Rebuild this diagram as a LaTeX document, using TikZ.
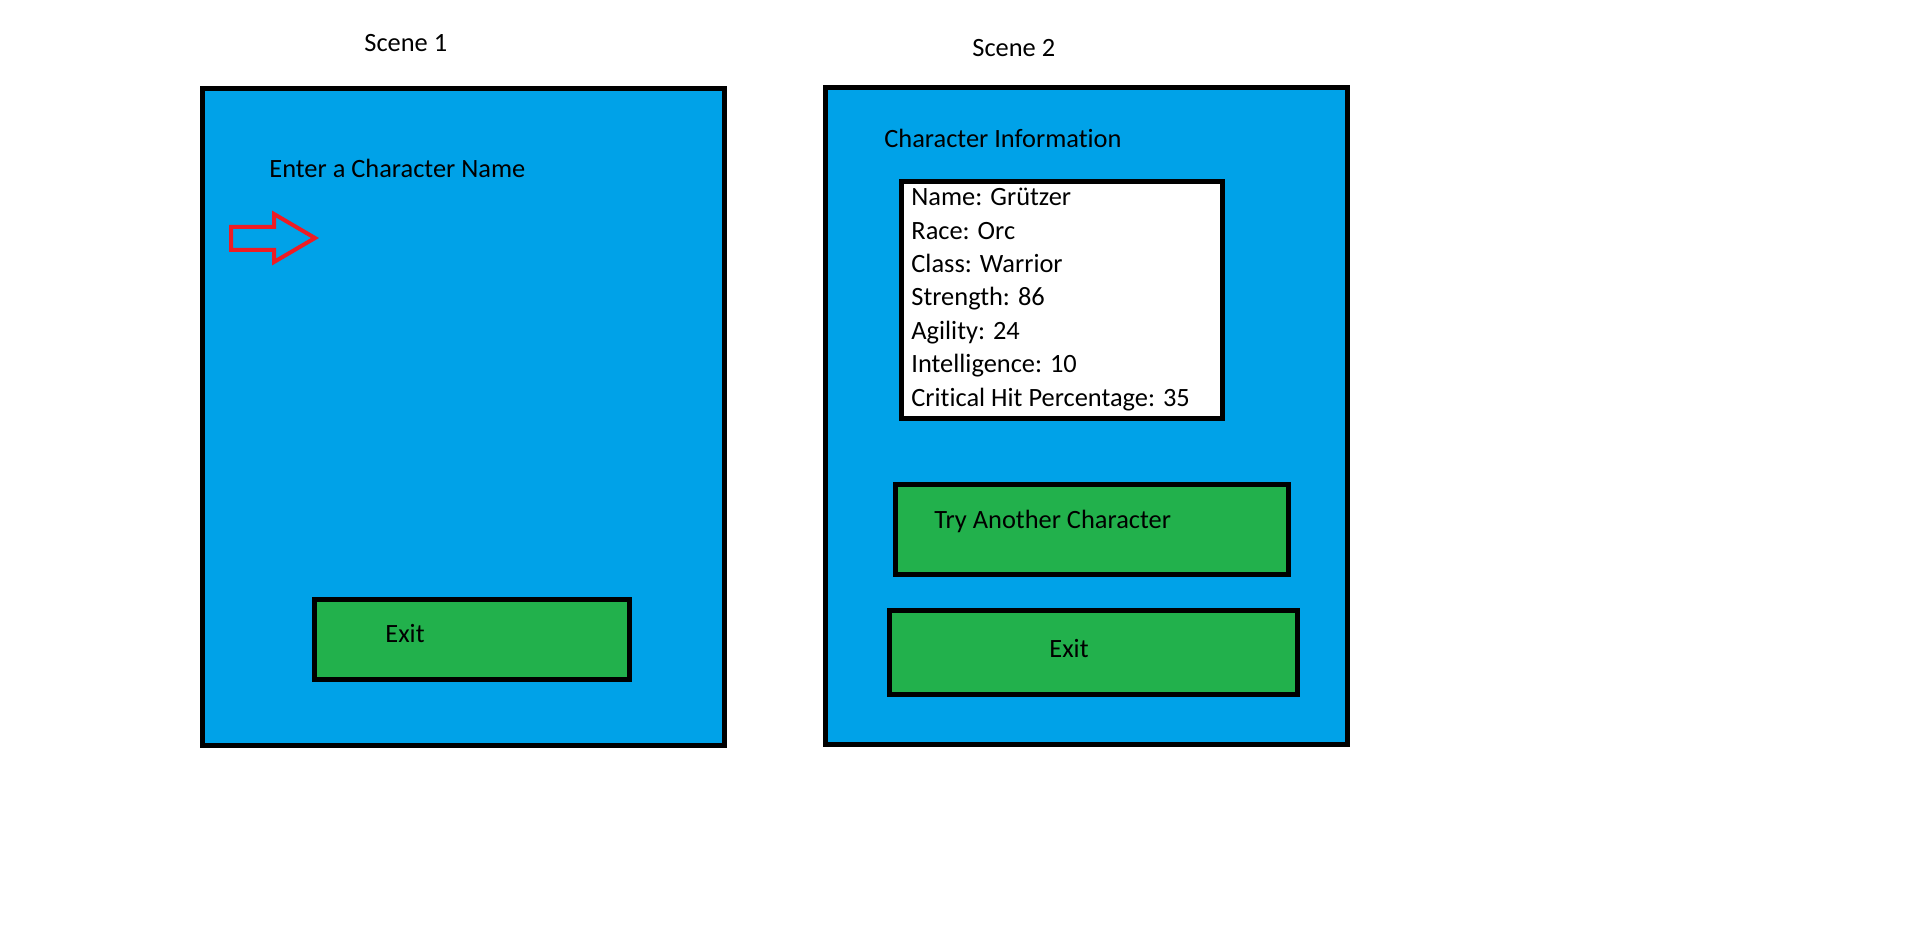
\documentclass[tikz,border=0pt]{standalone}
\usepackage{fontspec}
\setmainfont{Carlito}[Ligatures={NoCommon,NoRare,NoContextual}]
\definecolor{paintblue}{RGB}{0,162,232}
\definecolor{paintgreen}{RGB}{34,177,76}
\definecolor{paintred}{RGB}{237,28,36}
\begin{document}
\begin{tikzpicture}[x=0.5pt,y=-0.5pt,
  every node/.style={font=\fontsize{13.2pt}{16.65pt}\selectfont},
  screen/.style={draw=black, fill=paintblue, line width=2.5pt, inner sep=0pt},
  button/.style={draw=black, fill=paintgreen, line width=2.5pt, inner sep=0pt},
  infobox/.style={draw=black, fill=white, line width=2.5pt, inner sep=0pt},
  label/.style={anchor=base west, inner sep=0pt, text=black}]
\fill[white] (0,0) rectangle (1914,935);
\useasboundingbox (0,0) rectangle (1914,935);
% scene 1
\node[label] (t1) at (364,52) {Scene 1};
\node[screen, minimum width=261pt, minimum height=328.5pt] (s1) at (463.5,417) {};
\node[label] (enter) at (269,178) {Enter a Character Name};
\draw[paintred, line width=2pt, line join=miter]
  (231,227) -- (274,227) -- (274,214) -- (315,238) -- (274,262) -- (274,250) -- (231,250) -- cycle;
\node[button, minimum width=157.5pt, minimum height=40pt] (exit1) at (472,639.5) {};
\node[label] (exit1t) at (385,642) {Exit};
% scene 2
\node[label] (t2) at (972,57) {Scene 2};
\node[screen, minimum width=261pt, minimum height=328.5pt] (s2) at (1086.5,416) {};
\node[label] (info) at (884,148) {Character Informat\kern0pt ion};
\node[infobox, minimum width=160.5pt, minimum height=118.5pt] (ibox) at (1062,300) {};
\node[label] (l1) at (911,206) {Name: Grützer};
\node[label] (l2) at (911,239.3) {Race: Orc};
\node[label] (l3) at (911,272.6) {Class: Warrior};
\node[label] (l4) at (911,306) {Strength: 86};
\node[label] (l5) at (911,339.3) {Agility: 24};
\node[label] (l6) at (911,372.6) {Intelligence: 10};
\node[label] (l7) at (911,406) {Crit\kern0pt ical Hit Percentage: 35};
\node[button, minimum width=196.5pt, minimum height=45pt] (try) at (1092,529.5) {};
\node[label] (tryt) at (934,528) {Try Another Character};
\node[button, minimum width=204pt, minimum height=42pt] (exit2) at (1093.5,652.5) {};
\node[label] (exit2t) at (1049,657) {Exit};
\end{tikzpicture}
\end{document}
